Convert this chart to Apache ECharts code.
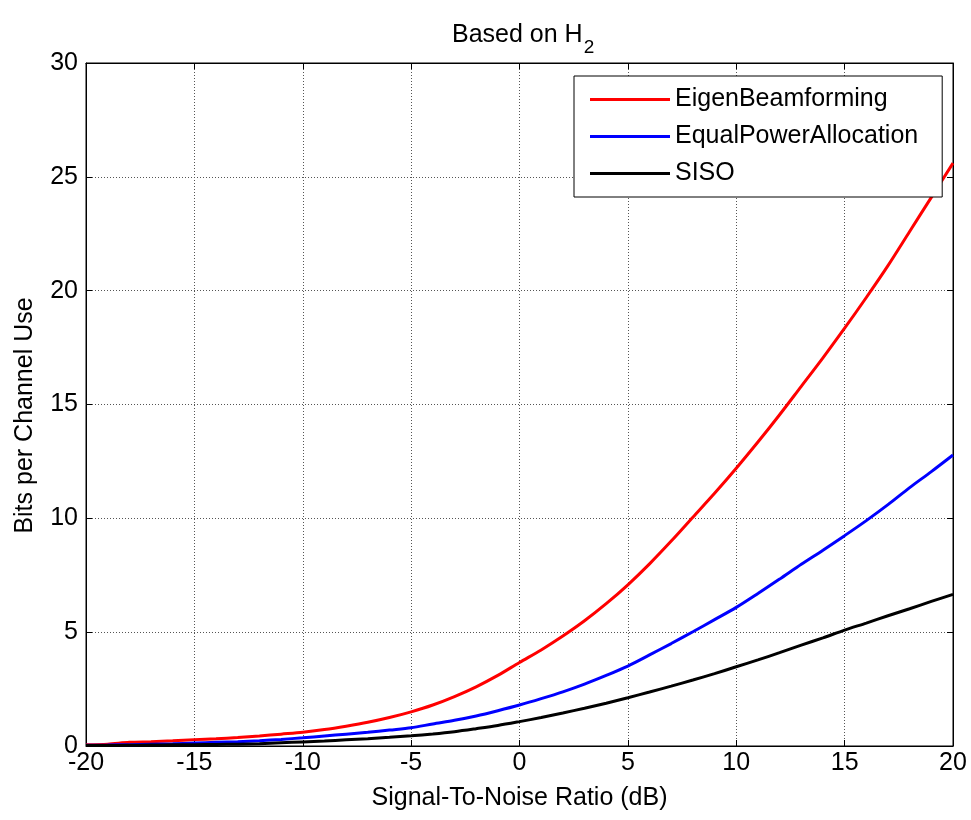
<!DOCTYPE html>
<html>
<head>
<meta charset="utf-8">
<script src="https://cdn.jsdelivr.net/npm/echarts@6/dist/echarts.min.js"></script>
<style>
html,body{margin:0;padding:0;background:#fff;}
#chart{width:971px;height:820px;}
</style>
</head>
<body>
<div id="chart"></div>
<script>
const snr = [-20,-19,-18,-17,-16,-15,-14,-13,-12,-11,-10,-9,-8,-7,-6,-5,-4,-3,-2,-1,0,1,2,3,4,5,6,7,8,9,10,11,12,13,14,15,16,17,18,19,20];
const eigenBeamforming = [0.05,0.08,0.16,0.19,0.23,0.28,0.32,0.37,0.44,0.52,0.6,0.72,0.87,1.04,1.25,1.5,1.8,2.17,2.6,3.1,3.67,4.22,4.83,5.5,6.25,7.08,8.0,9.0,10.05,11.1,12.2,13.35,14.55,15.8,17.05,18.35,19.7,21.1,22.6,24.1,25.6];
const equalPowerAllocation = [0.03,0.04,0.06,0.08,0.1,0.13,0.16,0.19,0.23,0.29,0.36,0.44,0.52,0.6,0.7,0.8,0.97,1.13,1.32,1.55,1.8,2.08,2.38,2.72,3.1,3.51,4.0,4.5,5.02,5.55,6.09,6.7,7.33,7.98,8.6,9.24,9.9,10.6,11.35,12.05,12.78];
const siso = [0.02,0.02,0.03,0.04,0.05,0.06,0.07,0.08,0.1,0.14,0.18,0.22,0.27,0.32,0.38,0.45,0.53,0.63,0.76,0.9,1.07,1.25,1.45,1.66,1.88,2.12,2.37,2.63,2.9,3.18,3.48,3.78,4.1,4.43,4.75,5.09,5.4,5.72,6.03,6.35,6.66];
const seriesNames = ['EigenBeamforming','EqualPowerAllocation','SISO'];
const seriesColors = ['#ff0000','#0000ff','#000000'];
const xTicks = {min:-20, max:20, interval:5};
const yTicks = {min:0, max:30, interval:5};

const FONT = 'Liberation Sans, Arial, sans-serif';
const FS = 25;
const pair = arr => snr.map((x,i)=>[x,arr[i]]);
const allData = [eigenBeamforming, equalPowerAllocation, siso];

const chart = echarts.init(document.getElementById('chart'));
const gridLine = {show:true, lineStyle:{color:'#555', width:1, type:[1,2]}};
const tickIn = {show:true, inside:true, length:6, lineStyle:{color:'#000', width:1}};
chart.setOption({
  animation:false,
  backgroundColor:'#fff',
  title:{
    text:'{a|Based on H}{s|2}',
    left:447, top:9,
    textStyle:{fontWeight:'normal', rich:{
      a:{fontFamily:FONT, fontSize:FS, fontWeight:'normal', color:'#000'},
      s:{fontFamily:FONT, fontSize:19, fontWeight:'normal', color:'#000', padding:[24,0,0,1]}
    }}
  },
  grid:{left:86, right:18, top:63, bottom:74, show:true, borderColor:'#000', borderWidth:1, backgroundColor:'#fff'},
  legend:{
    orient:'vertical', left:574, top:76,
    backgroundColor:'#fff', borderColor:'#000', borderWidth:1,
    padding:[11,24,11,16], itemGap:12, itemWidth:80, itemHeight:14,
    textStyle:{fontFamily:FONT, fontSize:FS, color:'#000'},
    data:seriesNames.map(n=>({name:n, icon:'path://M0,6 L80,6 L80,9 L0,9 Z'}))
  },
  xAxis:[{
    type:'value', min:xTicks.min, max:xTicks.max, interval:xTicks.interval,
    name:'Signal-To-Noise Ratio (dB)', nameLocation:'middle', nameGap:40,
    nameTextStyle:{fontFamily:FONT, fontSize:FS, color:'#000'},
    axisLine:{show:true, onZero:false, lineStyle:{color:'#000', width:1}},
    axisTick:tickIn, splitLine:gridLine,
    axisLabel:{fontFamily:FONT, fontSize:FS, color:'#000', margin:5}
  },{
    type:'value', position:'top', min:xTicks.min, max:xTicks.max, interval:xTicks.interval,
    axisLine:{show:true, onZero:false, lineStyle:{color:'#000'}}, axisTick:tickIn,
    axisLabel:{show:false}, splitLine:{show:false}
  }],
  yAxis:[{
    type:'value', min:yTicks.min, max:yTicks.max, interval:yTicks.interval,
    name:'Bits per Channel Use', nameLocation:'middle', nameGap:48,
    nameTextStyle:{fontFamily:FONT, fontSize:FS, color:'#000', padding:[0,22,0,0]},
    axisLine:{show:true, onZero:false, lineStyle:{color:'#000', width:1}},
    axisTick:tickIn, splitLine:gridLine,
    axisLabel:{fontFamily:FONT, fontSize:FS, color:'#000', margin:8}
  },{
    type:'value', position:'right', min:yTicks.min, max:yTicks.max, interval:yTicks.interval,
    axisLine:{show:true, onZero:false, lineStyle:{color:'#000'}}, axisTick:tickIn,
    axisLabel:{show:false}, splitLine:{show:false}
  }],
  series:seriesNames.map((n,i)=>({
    name:n, type:'line', data:pair(allData[i]), showSymbol:false, symbol:'none',
    smooth:0.3, xAxisIndex:0, yAxisIndex:0,
    color:seriesColors[i],
    lineStyle:{color:seriesColors[i], width:3},
    itemStyle:{color:seriesColors[i]}
  }))
});
</script>
</body>
</html>
